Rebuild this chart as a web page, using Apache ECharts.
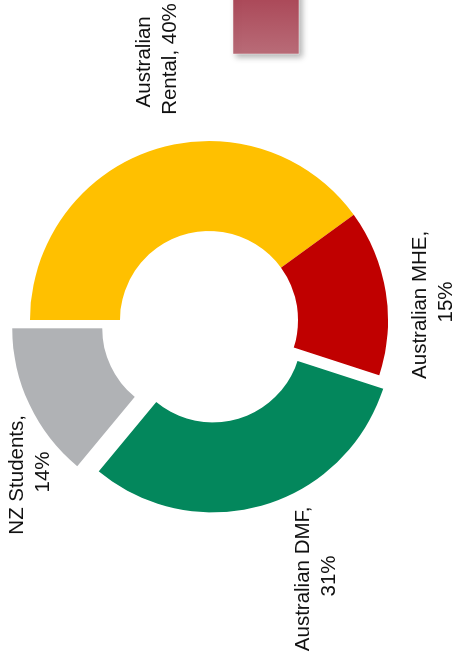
<!DOCTYPE html>
<html>
<head>
<meta charset="utf-8">
<script src="https://cdn.jsdelivr.net/npm/echarts@6/dist/echarts.min.js"></script>
<style>
  html, body { margin:0; padding:0; background:#fff; }
  body { width:457px; height:662px; overflow:hidden; position:relative; }
  #wrap { position:absolute; left:0; top:0; width:662px; height:457px;
          transform-origin:0 0; transform: translate(0px,662px) rotate(-90deg); }
</style>
</head>
<body>
<div id="wrap"></div>
<script>
// ---- data ----
const categories = ['Australian Rental', 'Australian MHE', 'Australian DMF', 'NZ Students'];
const shares = [40, 15, 31, 14];
const explodedMain = ['Australian DMF'];   // pulled-out slice (small offset)
const explodedFar = ['NZ Students'];       // pulled-out slice (larger offset)

// ---- styles ----
const palette = ['#FFC000', '#C00000', '#03875C', '#B0B2B5'];
const labelSpots = [[603, 157], [360, 433], [86, 316], [190, 30]];
const labelFont = '20.5px "Liberation Sans", Arial, sans-serif';

const chart = echarts.init(document.getElementById('wrap'), null, { renderer: 'canvas' });

function buildData(visibleFn, selectedList) {
  return categories.map((name, i) => {
    const vis = visibleFn(name);
    return {
      name: name,
      value: shares[i],
      selected: selectedList.indexOf(name) >= 0,
      itemStyle: { color: palette[i], opacity: vis ? 1 : 0 },
      select: { itemStyle: { color: palette[i], opacity: vis ? 1 : 0, borderWidth: 0 } }
    };
  });
}

const baseSeries = {
  type: 'pie',
  center: [342, 209],
  radius: [89, 179],
  startAngle: 90,
  clockwise: true,
  selectedMode: 'multiple',
  animation: false,
  emphasis: { disabled: true },
  label: { show: false },
  labelLine: { show: false }
};

const total = shares.reduce((a, b) => a + b, 0);
const labelGraphics = categories.map((name, i) => ({
  type: 'text',
  x: labelSpots[i][0],
  y: labelSpots[i][1],
  silent: true,
  style: {
    text: name + ', ' + Math.round(shares[i] / total * 100) + '%',
    font: labelFont,
    fill: '#111',
    align: 'center',
    verticalAlign: 'middle',
    width: 156,
    overflow: 'break',
    lineHeight: 26
  }
}));

chart.setOption({
  backgroundColor: '#fff',
  graphic: [{
    type: 'rect',
    shape: { x: 608, y: 233, width: 70, height: 66 },
    style: {
      fill: new echarts.graphic.LinearGradient(0, 0, 1, 0, [
        { offset: 0, color: '#B96C78' },
        { offset: 1, color: '#A73F50' }
      ]),
      stroke: 'rgba(255,255,255,0.45)',
      lineWidth: 1,
      shadowBlur: 6,
      shadowOffsetX: -3,
      shadowOffsetY: 3,
      shadowColor: 'rgba(0,0,0,0.3)'
    },
    silent: true
  }].concat(labelGraphics),
  series: [
    Object.assign({}, baseSeries, {
      selectedOffset: 14,
      data: buildData(n => explodedFar.indexOf(n) < 0, explodedMain)
    }),
    Object.assign({}, baseSeries, {
      selectedOffset: 19.5,
      data: buildData(n => explodedFar.indexOf(n) >= 0, explodedFar)
    })
  ]
});
</script>
</body>
</html>
